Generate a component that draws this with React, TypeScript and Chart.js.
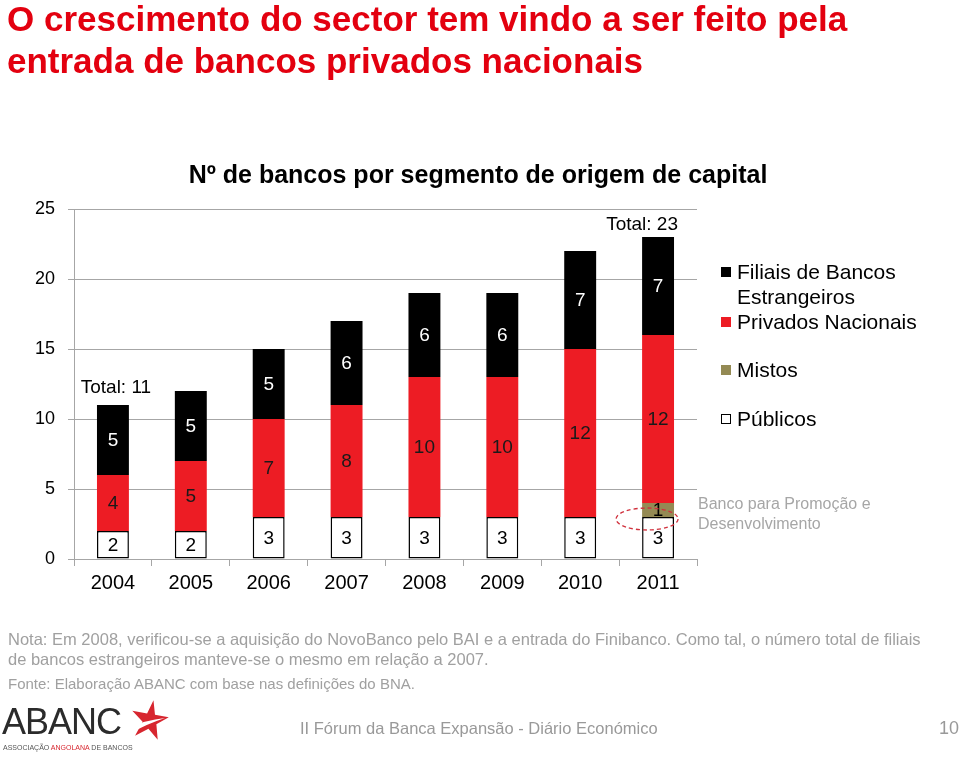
import React, { useEffect, useRef } from "react";
import { Chart, registerables } from "chart.js";

Chart.register(...registerables);

// ---- data ----
const years = ["2004", "2005", "2006", "2007", "2008", "2009", "2010", "2011"];
const publicos = [2, 2, 3, 3, 3, 3, 3, 3];
const mistos = [0, 0, 0, 0, 0, 0, 0, 1];
const privados = [4, 5, 7, 8, 10, 10, 12, 12];
const filiais = [5, 5, 5, 6, 6, 6, 7, 7];
const yTickValues = [0, 5, 10, 15, 20, 25];
const totalShownAt = [0, 7];
const circledYear = 7;

const seriesNames = ["Públicos", "Mistos", "Privados Nacionais", "Filiais de Bancos Estrangeiros"];
const seriesColors = ["#ffffff", "#948a54", "#ed1c24", "#000000"];
const labelColors = ["#000000", "#000000", "#1a1a1a", "#ffffff"];

const FONT = "Arial, 'Liberation Sans', sans-serif";

const totals = years.map((_, i) => publicos[i] + mistos[i] + privados[i] + filiais[i]);

const segmentLabelPlugin = {
  id: "segmentLabels",
  afterDatasetsDraw(chart: any) {
    const ctx = chart.ctx;
    ctx.save();
    ctx.font = `19px ${FONT}`;
    ctx.textAlign = "center";
    ctx.textBaseline = "middle";
    chart.data.datasets.forEach((ds: any, di: number) => {
      const meta = chart.getDatasetMeta(di);
      meta.data.forEach((el: any, i: number) => {
        const v = ds.data[i];
        if (!v) return;
        ctx.fillStyle = ds.labelColor;
        ctx.fillText(String(v), el.x, (el.y + el.base) / 2 + 1);
      });
    });
    // totals
    const topMeta = chart.getDatasetMeta(chart.data.datasets.length - 1);
    ctx.fillStyle = "#000";
    totalShownAt.forEach((i, k) => {
      const el = topMeta.data[i];
      const dx = k === 0 ? 3 : -16;
      const dy = k === 0 ? -17 : -12;
      ctx.fillText(`Total: ${totals[i]}`, el.x + dx, el.y + dy);
    });
    // dashed ellipse around mixed segment
    const mMeta = chart.getDatasetMeta(1);
    const mel = mMeta.data[circledYear];
    ctx.beginPath();
    ctx.setLineDash([4, 3]);
    ctx.strokeStyle = "#d0303c";
    ctx.lineWidth = 1.3;
    ctx.ellipse(mel.x - 11, mel.base + 2, 31, 11, 0, 0, Math.PI * 2);
    ctx.stroke();
    ctx.restore();
  },
};

function ChartBox() {
  const ref = useRef<HTMLCanvasElement | null>(null);
  useEffect(() => {
    if (!ref.current) return;
    const seriesData = [publicos, mistos, privados, filiais];
    const chart = new Chart(ref.current, {
      type: "bar",
      data: {
        labels: years,
        datasets: seriesData.map((d, i) => ({
          label: seriesNames[i],
          data: d,
          backgroundColor: seriesColors[i],
          borderColor: "#000",
          borderWidth: i === 0 ? 1.5 : 0,
          borderSkipped: false,
          barPercentage: 0.41,
          categoryPercentage: 1,
          labelColor: labelColors[i],
        })) as any,
      },
      options: {
        responsive: false,
        animation: false,
        events: [],
        layout: { padding: { left: 0, top: 209, right: 263, bottom: 160 } },
        plugins: { legend: { display: false }, tooltip: { enabled: false }, title: { display: false } },
        scales: {
          x: {
            stacked: true,
            grid: { display: true, drawOnChartArea: false, drawTicks: true, tickLength: 7, color: "#a6a6a6", offset: true },
            border: { color: "#a6a6a6" },
            ticks: { font: { family: FONT, size: 20 }, color: "#000", padding: 5 },
            afterFit: (s: any) => { s.height = 40; },
          },
          y: {
            stacked: true,
            min: 0,
            max: 25,
            afterBuildTicks: (s: any) => { s.ticks = yTickValues.map((v) => ({ value: v })); },
            ticks: { font: { family: FONT, size: 18 }, color: "#000", padding: 13 },
            grid: { color: "#a6a6a6", tickLength: 6 },
            border: { color: "#a6a6a6" },
            afterFit: (s: any) => { s.width = 74; },
          },
        },
      } as any,
      plugins: [segmentLabelPlugin],
    });
    return () => chart.destroy();
  }, []);
  return <canvas ref={ref} width={960} height={759} style={{ position: "absolute", left: 0, top: 0 }} />;
}

const abs = (left: number, top: number, extra: any = {}) => ({
  position: "absolute" as const,
  left,
  top,
  whiteSpace: "nowrap" as const,
  lineHeight: 1,
  fontFamily: FONT,
  ...extra,
});

export default function App() {
  const legendOrder = [3, 2, 1, 0];
  const legendTops = [259, 309, 357, 406];
  return (
    <div style={{ position: "absolute", left: 0, top: 0, width: 960, height: 759, background: "#fff", overflow: "hidden" }}>
      <ChartBox />
      <div style={abs(7, 0.5, { fontSize: 35, fontWeight: "bold", color: "#e3000f" })}>
        O crescimento do sector tem vindo a ser feito pela
      </div>
      <div style={abs(7, 42.5, { fontSize: 35, fontWeight: "bold", color: "#e3000f" })}>
        entrada de bancos privados nacionais
      </div>
      <div style={abs(0, 162, { width: 956, textAlign: "center", fontSize: 25, fontWeight: "bold", color: "#000" })}>
        Nº de bancos por segmento de origem de capital
      </div>
      {legendOrder.map((si, k) => (
        <div key={si} style={abs(721, legendTops[k], { whiteSpace: "normal", width: 215, fontSize: 21, lineHeight: "25px", color: "#000" })}>
          <span
            style={{
              position: "absolute",
              left: 0,
              top: 8,
              width: si === 0 ? 8 : 10,
              height: si === 0 ? 8 : 10,
              background: seriesColors[si],
              border: si === 0 ? "1px solid #000" : "none",
            }}
          />
          <div style={{ marginLeft: 16, width: 190 }}>{seriesNames[si]}</div>
        </div>
      ))}
      <div style={abs(698, 494, { fontSize: 16, lineHeight: "20px", color: "#a6a6a6" })}>
        Banco para Promoção e<br />Desenvolvimento
      </div>
      <div style={abs(8, 631, { fontSize: 16.5, color: "#a0a0a0" })}>
        Nota: Em 2008, verificou-se a aquisição do NovoBanco pelo BAI e a entrada do Finibanco. Como tal, o número total de filiais
      </div>
      <div style={abs(8, 651, { fontSize: 16.5, color: "#a0a0a0" })}>
        de bancos estrangeiros manteve-se o mesmo em relação a 2007.
      </div>
      <div style={abs(8, 676, { fontSize: 15, color: "#a0a0a0" })}>
        Fonte: Elaboração ABANC com base nas definições do BNA.
      </div>
      <div style={abs(2, 704, { fontSize: 36, color: "#2b2b2b", letterSpacing: -1, fontWeight: 300 })}>ABANC</div>
      <div style={abs(3, 744, { fontSize: 7, color: "#555", letterSpacing: 0 })}>
        ASSOCIAÇÃO <span style={{ color: "#d7262f" }}>ANGOLANA</span> DE BANCOS
      </div>
      <svg style={{ position: "absolute", left: 125, top: 698 }} width={45} height={50} viewBox="0 0 45 50">
        <polygon
          points="25,2 29,16 43,16 32,25 36,40 25,31 13,40 18,25 6,16 21,16"
          fill="#d7262f"
          transform="rotate(10 25 22)"
        />
        <path d="M4 30 Q20 22 40 20 Q22 26 8 34 Z" fill="#ffffff" />
      </svg>
      <div style={abs(300, 720, { fontSize: 16.5, color: "#999" })}>
        II Fórum da Banca Expansão - Diário Económico
      </div>
      <div style={abs(939, 719, { fontSize: 18, color: "#999" })}>10</div>
    </div>
  );
}
